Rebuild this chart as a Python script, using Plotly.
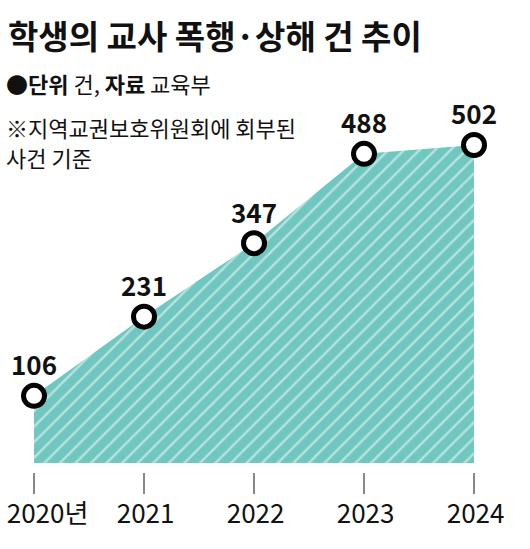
import plotly.graph_objects as go

years = [2020, 2021, 2022, 2023, 2024]
tick_text = ['2020년', '2021', '2022', '2023', '2024']
cases = [106, 231, 347, 488, 502]

FONT = 'Noto Sans CJK KR'
TEAL = '#6fc7bf'

# paper area: x 34..474 px, y 100..509 px
def px_x(px):
    return (px - 34) / 440

def px_y(py):
    return (509 - py) / 409

fig = go.Figure()
fig.add_trace(go.Scatter(x=years, y=cases, mode='lines', fill='tozeroy',
                         line=dict(color=TEAL, width=0),
                         fillpattern=dict(shape='/', fgcolor='white', bgcolor=TEAL,
                                          size=11, solidity=0.22),
                         hoverinfo='skip', showlegend=False))
fig.add_trace(go.Scatter(x=years, y=cases, mode='markers+text',
                         marker=dict(size=21, color='white',
                                     line=dict(color='black', width=5)),
                         text=[str(v) for v in cases], textposition='top center',
                         textfont=dict(family=FONT, size=26, color='#111'),
                         texttemplate='<b>%{text}</b>',
                         cliponaxis=False, showlegend=False))

fig.update_layout(
    width=530, height=549,
    margin=dict(l=34, r=56, t=100, b=40, autoexpand=False),
    paper_bgcolor='white', plot_bgcolor='white',
    font=dict(family=FONT, color='#111'),
    xaxis=dict(range=[2020, 2024], tickvals=years, ticktext=tick_text,
               showgrid=False, zeroline=False, showline=False, automargin=False,
               ticks='outside', ticklen=21, tickcolor='#888', tickwidth=1.5,
               tickfont=dict(size=26, color='#111'), ticklabeloverflow='allow',
               ticklabelposition='outside right', ticklabelshift=-28,
               ticklabelstandoff=19,
               anchor='free', position=px_y(472)),
    yaxis=dict(range=[0, 573], domain=[px_y(463), 1], visible=False, automargin=False),
    annotations=[
        dict(text='<b>학생의 교사 폭행·상해 건 추이</b>', x=px_x(6), y=px_y(35),
             xref='paper', yref='paper', xanchor='left', yanchor='middle', showarrow=False,
             font=dict(size=33, color='#111')),
        dict(text='<b>●단위</b> 건, <b>자료</b> 교육부', x=px_x(4), y=px_y(83),
             xref='paper', yref='paper', xanchor='left', yanchor='middle', showarrow=False,
             font=dict(size=22, color='#111')),
        dict(text='※지역교권보호위원회에 회부된', x=px_x(4), y=px_y(127),
             xref='paper', yref='paper', xanchor='left', yanchor='middle',
             showarrow=False, font=dict(size=22, color='#111')),
        dict(text='사건 기준', x=px_x(4), y=px_y(157),
             xref='paper', yref='paper', xanchor='left', yanchor='middle',
             showarrow=False, font=dict(size=22, color='#111')),
    ],
)

fig.write_html('out.html', config={'displayModeBar': False},
               post_script="document.body.style.margin='0';")
